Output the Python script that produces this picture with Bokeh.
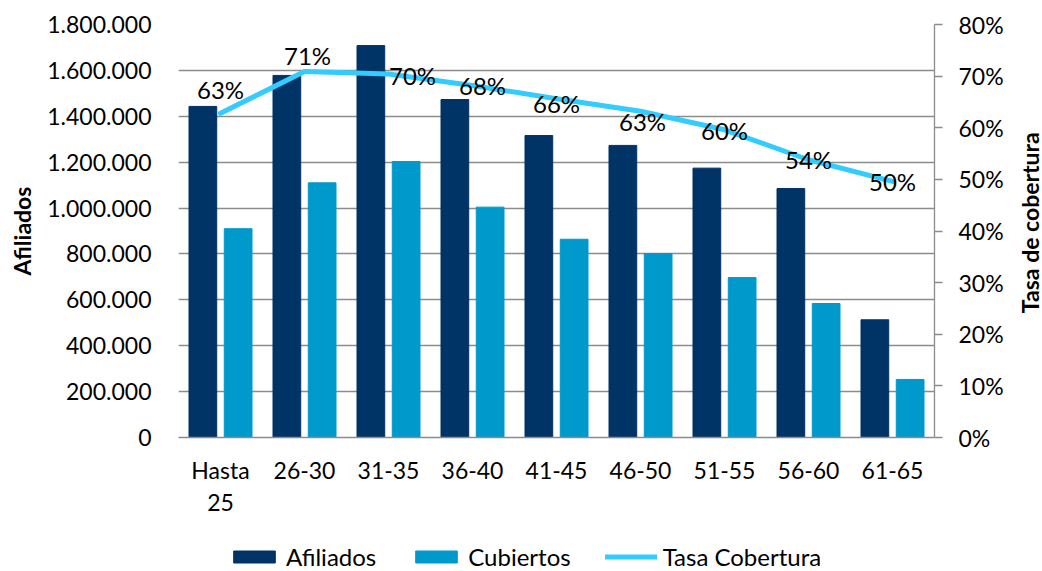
import math
from bokeh.plotting import figure
from bokeh.layouts import column, row
from bokeh.models import (Range1d, LinearAxis, FixedTicker, Legend, LegendItem,
                          ColumnDataSource)
from bokeh.transform import dodge
from bokeh.core.properties import value
from bokeh.embed import file_html
from bokeh.resources import INLINE

# ---------------- data ----------------
categories = ["Hasta 25", "26-30", "31-35", "36-40", "41-45", "46-50", "51-55", "56-60", "61-65"]
category_line1 = ["Hasta", "26-30", "31-35", "36-40", "41-45", "46-50", "51-55", "56-60", "61-65"]
category_line2 = ["25"]  # second line of the first category label
afiliados = [1443000, 1578000, 1708000, 1473000, 1316000, 1273000, 1174000, 1085000, 513000]
cubiertos = [910000, 1110000, 1203000, 1004000, 864000, 801000, 697000, 584000, 253000]
tasa = [62.8, 70.9, 70.4, 68.2, 65.6, 63.2, 59.6, 53.8, 49.6]
tasa_labels = ["63%", "71%", "70%", "68%", "66%", "63%", "60%", "54%", "50%"]
left_ticks = [0, 200000, 400000, 600000, 800000, 1000000, 1200000, 1400000, 1600000, 1800000]
left_tick_labels = ["0", "200.000", "400.000", "600.000", "800.000", "1.000.000",
                    "1.200.000", "1.400.000", "1.600.000", "1.800.000"]
right_ticks = [0, 10, 20, 30, 40, 50, 60, 70, 80]
right_tick_labels = ["0%", "10%", "20%", "30%", "40%", "50%", "60%", "70%", "80%"]
legend_labels = ["Afiliados", "Cubiertos", "Tasa Cobertura"]
left_title = "Afiliados"
right_title = "Tasa de cobertura"

# category slot centres on a numeric axis (one unit per category)
xpos = [i + 0.5 for i in range(len(categories))]

# ---------------- style ----------------
FONT = "Lato"
FS = "23px"
FS_BIG = "24px"
DARK = "#003366"
LIGHT = "#0099CC"
LINE = "#33CCFF"
GRID = "#8C8C8C"
# label nudges (screen px) mimicking manual placement in the original
label_dx = [0, 3, 24, 10, 0, 2, 0, 0, 0]
label_dy = [-24, -16, 1, 0, 5, 10, 1, 0, 0]

src = ColumnDataSource(dict(x=xpos, cat=categories, af=afiliados, cu=cubiertos, tasa=tasa,
                            lab=tasa_labels, dx=label_dx, dy=label_dy))

p = figure(x_range=Range1d(0, len(categories)), y_range=Range1d(0, 1800000),
           width=1016, height=541, output_backend="svg", toolbar_location=None,
           min_border_left=178, min_border_right=82, min_border_top=24, min_border_bottom=104)
p.outline_line_color = None
p.background_fill_color = "white"
p.border_fill_color = "white"
p.extra_y_ranges = {"rate": Range1d(0, 80)}

vb1 = p.vbar(x=dodge("x", -0.21), top="af", width=0.33, source=src,
             fill_color=DARK, line_color=DARK)
vb2 = p.vbar(x=dodge("x", 0.21), top="cu", width=0.33, source=src,
             fill_color=LIGHT, line_color=LIGHT)
ln = p.line(x="x", y="tasa", source=src, y_range_name="rate", line_color=LINE,
            line_width=5, line_join="round", line_cap="round")
p.text(x="x", y="tasa", text="lab", source=src, y_range_name="rate",
       x_offset="dx", y_offset="dy", text_align="center", text_baseline="middle",
       text_font=value(FONT), text_font_size=FS_BIG, text_color="black")

# grid
p.xgrid.grid_line_color = None
p.ygrid.grid_line_color = GRID
p.ygrid.grid_line_width = 1.3
p.ygrid.ticker = FixedTicker(ticks=left_ticks)

# left axis
ya = p.yaxis[0]
ya.ticker = FixedTicker(ticks=left_ticks)
ya.major_label_overrides = {t: l for t, l in zip(left_ticks, left_tick_labels)}
ya.axis_line_color = None
ya.major_tick_line_color = None
ya.minor_tick_line_color = None
ya.major_tick_out = 0
ya.major_tick_in = 0
ya.major_label_standoff = 27
ya.major_label_text_font = FONT
ya.major_label_text_font_size = FS
ya.major_label_text_color = "black"
ya.axis_label = left_title
ya.axis_label_text_font = FONT
ya.axis_label_text_font_size = FS
ya.axis_label_text_font_style = "bold"
ya.axis_label_text_color = "black"
ya.axis_label_standoff = 8

# right axis
ra = LinearAxis(y_range_name="rate", ticker=FixedTicker(ticks=right_ticks))
ra.major_label_overrides = {t: l for t, l in zip(right_ticks, right_tick_labels)}
ra.axis_line_color = GRID
ra.axis_line_width = 1.3
ra.major_tick_line_color = GRID
ra.major_tick_line_width = 1.3
ra.major_tick_out = 8
ra.major_tick_in = 0
ra.minor_tick_line_color = None
ra.major_label_standoff = 16
ra.major_label_text_font = FONT
ra.major_label_text_font_size = FS
ra.major_label_text_color = "black"
p.add_layout(ra, "right")

# x axis (first line of category labels)
xa = p.xaxis[0]
xa.ticker = FixedTicker(ticks=xpos)
xa.major_label_overrides = {t: l for t, l in zip(xpos, category_line1)}
xa.axis_line_color = GRID
xa.axis_line_width = 1.3
xa.major_tick_line_color = None
xa.minor_tick_line_color = None
xa.major_tick_out = 0
xa.major_tick_in = 0
xa.major_label_standoff = 18
xa.major_label_text_font = FONT
xa.major_label_text_font_size = FS
xa.major_label_text_color = "black"

# second line of the wrapped category label
xa2 = LinearAxis(ticker=FixedTicker(ticks=xpos[:len(category_line2)]))
xa2.major_label_overrides = {t: l for t, l in zip(xpos, category_line2)}
xa2.axis_line_color = None
xa2.major_tick_line_color = None
xa2.minor_tick_line_color = None
xa2.major_tick_out = 0
xa2.major_tick_in = 0
xa2.major_label_standoff = 7
xa2.major_label_text_font = FONT
xa2.major_label_text_font_size = FS
xa2.major_label_text_color = "black"
p.add_layout(xa2, "below")

# ---------------- right title strip (reads bottom-to-top) ----------------
rf = figure(x_range=Range1d(0, 1), y_range=Range1d(0, 1), width=26, height=541,
            output_backend="svg", toolbar_location=None,
            x_axis_location=None, y_axis_location=None,
            min_border_left=0, min_border_right=0, min_border_top=24, min_border_bottom=104)
rf.outline_line_color = None
rf.xgrid.visible = False
rf.ygrid.visible = False
rf.text(x=[0.5], y=[0.52], text=[right_title], angle=math.pi / 2,
        text_align="center", text_baseline="middle",
        text_font=value(FONT), text_font_size=FS, text_font_style="bold", text_color="black")

# ---------------- legend strip (frame matches the chart frame) ----------------
lf = figure(x_range=Range1d(0, 1), y_range=Range1d(0, 1), width=1042, height=30,
            output_backend="svg", toolbar_location=None,
            x_axis_location=None, y_axis_location=None,
            min_border_left=178, min_border_right=108, min_border_top=0, min_border_bottom=0)
lf.outline_line_color = None
lf.xgrid.visible = False
lf.ygrid.visible = False
# legend keys: glyphs with undefined coordinates, only their legend swatches show
nan = float("nan")
keys = ColumnDataSource(dict(x=[nan, nan], top=[nan, nan], y=[nan, nan]))
k1 = lf.vbar(x="x", top="top", width=0.1, source=keys, fill_color=DARK, line_color=DARK)
k2 = lf.vbar(x="x", top="top", width=0.1, source=keys, fill_color=LIGHT, line_color=LIGHT)
k3 = lf.line(x="x", y="y", source=keys, line_color=LINE, line_width=5, line_cap="round")
legend = Legend(items=[LegendItem(label=legend_labels[0], renderers=[k1]),
                       LegendItem(label=legend_labels[1], renderers=[k2]),
                       LegendItem(label=legend_labels[2], renderers=[k3])],
                location=(50, 0), orientation="horizontal",
                glyph_width=52, glyph_height=15, label_standoff=6, spacing=34,
                padding=0, margin=0, border_line_color=None,
                background_fill_alpha=0,
                label_text_font=FONT, label_text_font_size=FS_BIG, label_text_color="black")
lf.add_layout(legend, "center")

layout = column(row(p, rf, spacing=0), lf, spacing=0)
open("out.html", "w").write(file_html(layout, INLINE))
